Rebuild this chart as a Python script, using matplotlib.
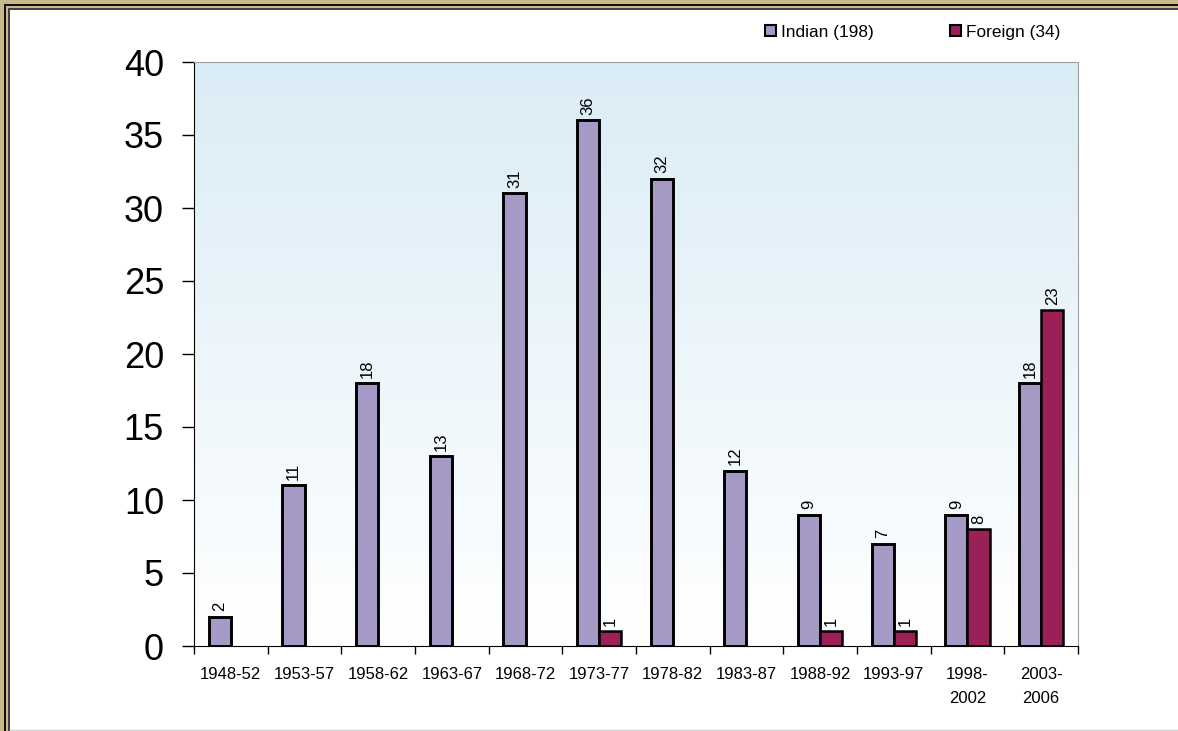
# Bar chart: Indian vs foreign counts per five-year period

import numpy as np
import matplotlib.pyplot as plt
from matplotlib.patches import Rectangle, Patch
from matplotlib.lines import Line2D

plt.rcParams['font.family'] = ['Liberation Sans', 'DejaVu Sans']

periods = ['1948-52', '1953-57', '1958-62', '1963-67', '1968-72', '1973-77',
           '1978-82', '1983-87', '1988-92', '1993-97', '1998-\n2002', '2003-\n2006']
indian = [2, 11, 18, 13, 31, 36, 32, 12, 9, 7, 9, 18]
foreign = [0, 0, 0, 0, 0, 1, 0, 0, 1, 1, 8, 23]
series_names = ['Indian (198)', 'Foreign (34)']
yticks = [0, 5, 10, 15, 20, 25, 30, 35, 40]

c_indian = '#a599c6'
c_foreign = '#9b2058'
gold = '#c9b98a'

W, H = 1178, 731
fig = plt.figure(figsize=(W / 100, H / 100), dpi=100)
fig.patch.set_facecolor('white')

# frame on top and left edges
def px_rect(x0, y0, w, h, color):
    fig.patches.append(Rectangle((x0 / W, 1 - (y0 + h) / H), w / W, h / H,
                                 transform=fig.transFigure, color=color,
                                 zorder=-10, linewidth=0))

px_rect(0, 0, W, 11, gold)
px_rect(0, 0, 11, H, gold)
px_rect(4, 4, W, 2, '#111111')
px_rect(4, 4, 2, H, '#111111')
px_rect(8, 8, W, 2, '#444444')
px_rect(8, 8, 2, H, '#444444')
px_rect(10, 10, W, H, 'white')
fig.lines.append(Line2D([10 / W, 1], [1 - 729.5 / H] * 2, transform=fig.transFigure,
                        color='#d0d0d0', linewidth=1))

ax = fig.add_axes([194 / W, 1 - 646 / H, (1078 - 194) / W, (646 - 62) / H])

# gradient background
grad = np.linspace(0, 1, 256).reshape(-1, 1)
top = np.array([218, 236, 246]) / 255
bot = np.array([255, 255, 255]) / 255
img = top * (1 - grad)[..., None] + bot * grad[..., None]
ax.imshow(img, extent=[0, 1, 0, 1], transform=ax.transAxes, aspect='auto', zorder=0)

x = np.arange(len(periods))
w = 0.3
b1 = ax.bar(x - w / 2, indian, w, color=c_indian, edgecolor='black', linewidth=2.1, zorder=3)
fvals = [v if v > 0 else np.nan for v in foreign]
b2 = ax.bar(x + w / 2, fvals, w, color=c_foreign, edgecolor='black', linewidth=1.8, zorder=3)

for bars, vals in [(b1, indian), (b2, foreign)]:
    for bar, v in zip(bars, vals):
        if v > 0:
            ax.annotate(str(v), (bar.get_x() + bar.get_width() / 2, v), xytext=(0, 4),
                        textcoords='offset points', rotation=90, ha='center', va='bottom',
                        fontsize=12, zorder=4)

ax.set_xlim(-0.5, len(periods) - 0.5)
ax.set_ylim(0, 40)
ax.set_yticks(yticks)
ax.tick_params(axis='y', labelsize=26, length=8.6, width=1, pad=13)
ax.set_xticks(x)
ax.set_xticklabels(periods, fontsize=12, linespacing=1.75)
ax.set_xticks(np.arange(len(periods) + 1) - 0.5, minor=True)
ax.tick_params(axis='x', which='major', length=0, pad=15)
ax.tick_params(axis='x', which='minor', length=6, width=1)

for s in ['top', 'right']:
    ax.spines[s].set_color('#a0a0a0')
for s in ['left', 'bottom']:
    ax.spines[s].set_color('black')

handles = [Patch(facecolor=c_indian, edgecolor='black', linewidth=1.5),
           Patch(facecolor=c_foreign, edgecolor='black', linewidth=1.5)]
fig.legend(handles, series_names, loc='center left', bbox_to_anchor=(765 / W, 1 - 32 / H),
           ncol=2, frameon=False, fontsize=12.4, handlelength=0.65, handleheight=0.65,
           handletextpad=0.3, columnspacing=4.4, borderpad=0, borderaxespad=0)

fig.savefig('out.png', dpi=100)
